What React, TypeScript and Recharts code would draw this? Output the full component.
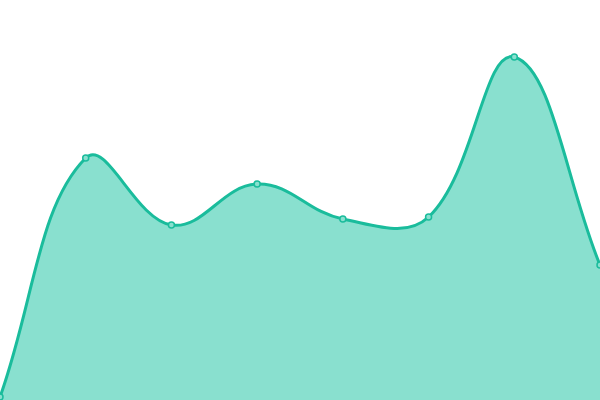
import { AreaChart, Area, XAxis, YAxis } from 'recharts'

const labels = ['A', 'B', 'C', 'D', 'E', 'F', 'G', 'H']
const values = [3, 242, 175, 216, 181, 183, 343, 135]

const data = labels.map((label, i) => ({ label, value: values[i] }))

// spline with tension, like a "smooth" line in other chart libraries
const TENSION = 0.4

function smoothCurve(context: any) {
  let pts: [number, number][] = []
  let line = NaN

  const draw = () => {
    const n = pts.length
    if (!n) return
    const cps = pts.map((cur, i) => {
      const prev = pts[i - 1] || cur
      const next = pts[i + 1] || cur
      const d01 = Math.hypot(cur[0] - prev[0], cur[1] - prev[1])
      const d12 = Math.hypot(next[0] - cur[0], next[1] - cur[1])
      let s01 = d01 / (d01 + d12)
      let s12 = d12 / (d01 + d12)
      if (isNaN(s01)) s01 = 0
      if (isNaN(s12)) s12 = 0
      const fa = TENSION * s01
      const fb = TENSION * s12
      const dx = next[0] - prev[0]
      const dy = next[1] - prev[1]
      return {
        before: [cur[0] - fa * dx, cur[1] - fa * dy],
        after: [cur[0] + fb * dx, cur[1] + fb * dy],
      }
    })
    if (line) context.lineTo(pts[0][0], pts[0][1])
    else context.moveTo(pts[0][0], pts[0][1])
    for (let i = 1; i < n; i++) {
      const a = cps[i - 1].after
      const b = cps[i].before
      context.bezierCurveTo(a[0], a[1], b[0], b[1], pts[i][0], pts[i][1])
    }
  }

  return {
    areaStart() {
      line = 0
    },
    areaEnd() {
      line = NaN
    },
    lineStart() {
      pts = []
    },
    lineEnd() {
      draw()
      if (line || (line !== 0 && pts.length === 1)) context.closePath()
      line = 1 - line
    },
    point(x: number, y: number) {
      pts.push([+x, +y])
    },
  }
}

export default function App() {
  return (
    <div style={{ position: 'absolute', left: 0, top: 0 }}>
      <AreaChart width={600} height={400} data={data} margin={{ top: 0, right: 0, bottom: 0, left: 0 }}>
        <XAxis dataKey="label" hide />
        <YAxis domain={[0, 400]} hide />
        <Area
          type={smoothCurve as any}
          dataKey="value"
          stroke="#1abc9c"
          strokeWidth={3}
          fill="#89e0cf"
          fillOpacity={1}
          dot={{ r: 3, fill: '#89e0cf', stroke: '#1abc9c', strokeWidth: 1.5, fillOpacity: 1 }}
          activeDot={false}
          isAnimationActive={false}
        />
      </AreaChart>
    </div>
  )
}
